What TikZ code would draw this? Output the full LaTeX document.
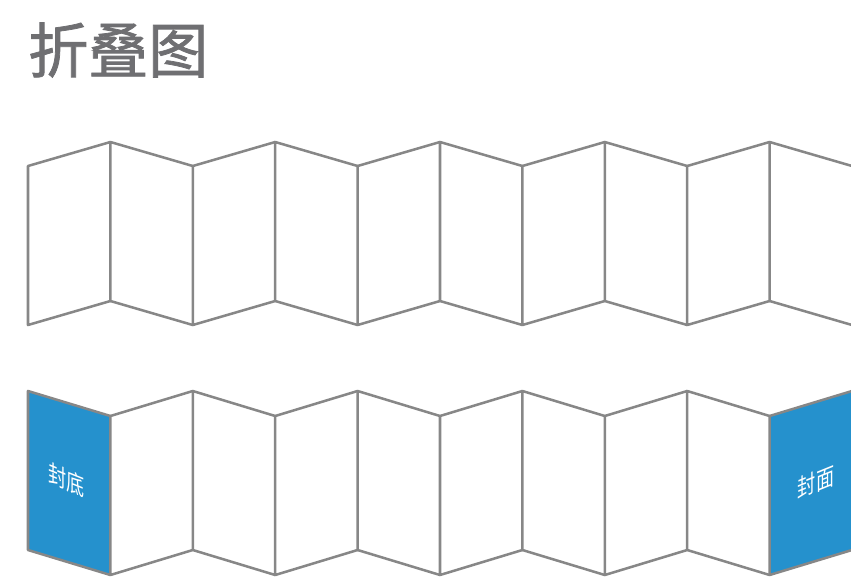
\documentclass[tikz,border=0pt]{standalone}
\usepackage{fontspec}
\newfontfamily\cjk{Noto Sans CJK SC}
\newfontfamily\cjkhead[FakeBold=1.3]{Noto Sans CJK SC}
\definecolor{fold}{HTML}{878787}
\definecolor{cover}{HTML}{2591CD}
\definecolor{heading}{HTML}{6F6F72}

\begin{document}
\begin{tikzpicture}[x=0.75pt,y=-0.75pt,
  edge/.style={draw=fold,line width=1.9pt,line join=round},
  lab/.style={font=\cjk\fontsize{16}{16}\selectfont,text=white,inner sep=0pt,xscale=0.85,yscale=1.15}]
\useasboundingbox (0,0) rectangle (851,576);
\clip (0,0) rectangle (851,576);
\node[anchor=west,inner sep=0pt,font=\cjkhead\fontsize{45}{45}\selectfont,text=heading] (title) at (28,50) {折叠图};
% corner points of both strips
\foreach \i in {0,...,10}{
  \pgfmathsetmacro\xx{28+82.4*\i}
  \pgfmathsetmacro\dd{mod(\i,2)}
  \coordinate (ut\i) at (\xx,{166-24*\dd});
  \coordinate (ub\i) at (\xx,{325-24*\dd});
  \coordinate (lt\i) at (\xx,{391+25*\dd});
  \coordinate (lb\i) at (\xx,{550+25*\dd});
}
% covers
\fill[cover] (lt0)--(lt1)--(lb1)--(lb0)--cycle;
\fill[cover] (lt9)--(lt10)--(lb10)--(lb9)--cycle;
% panels
\foreach \i [evaluate=\i as \j using int(\i+1)] in {0,...,9}{
  \draw[edge] (ut\j)--(ut\i)--(ub\i)--(ub\j);
  \draw[edge] (lt\j)--(lt\i)--(lb\i)--(lb\j);
}
\node[lab,yslant=-0.3] (back) at (67,480) {封底};
\node[lab,yslant=0.3] (front) at (816,482) {封面};
\end{tikzpicture}
\end{document}
